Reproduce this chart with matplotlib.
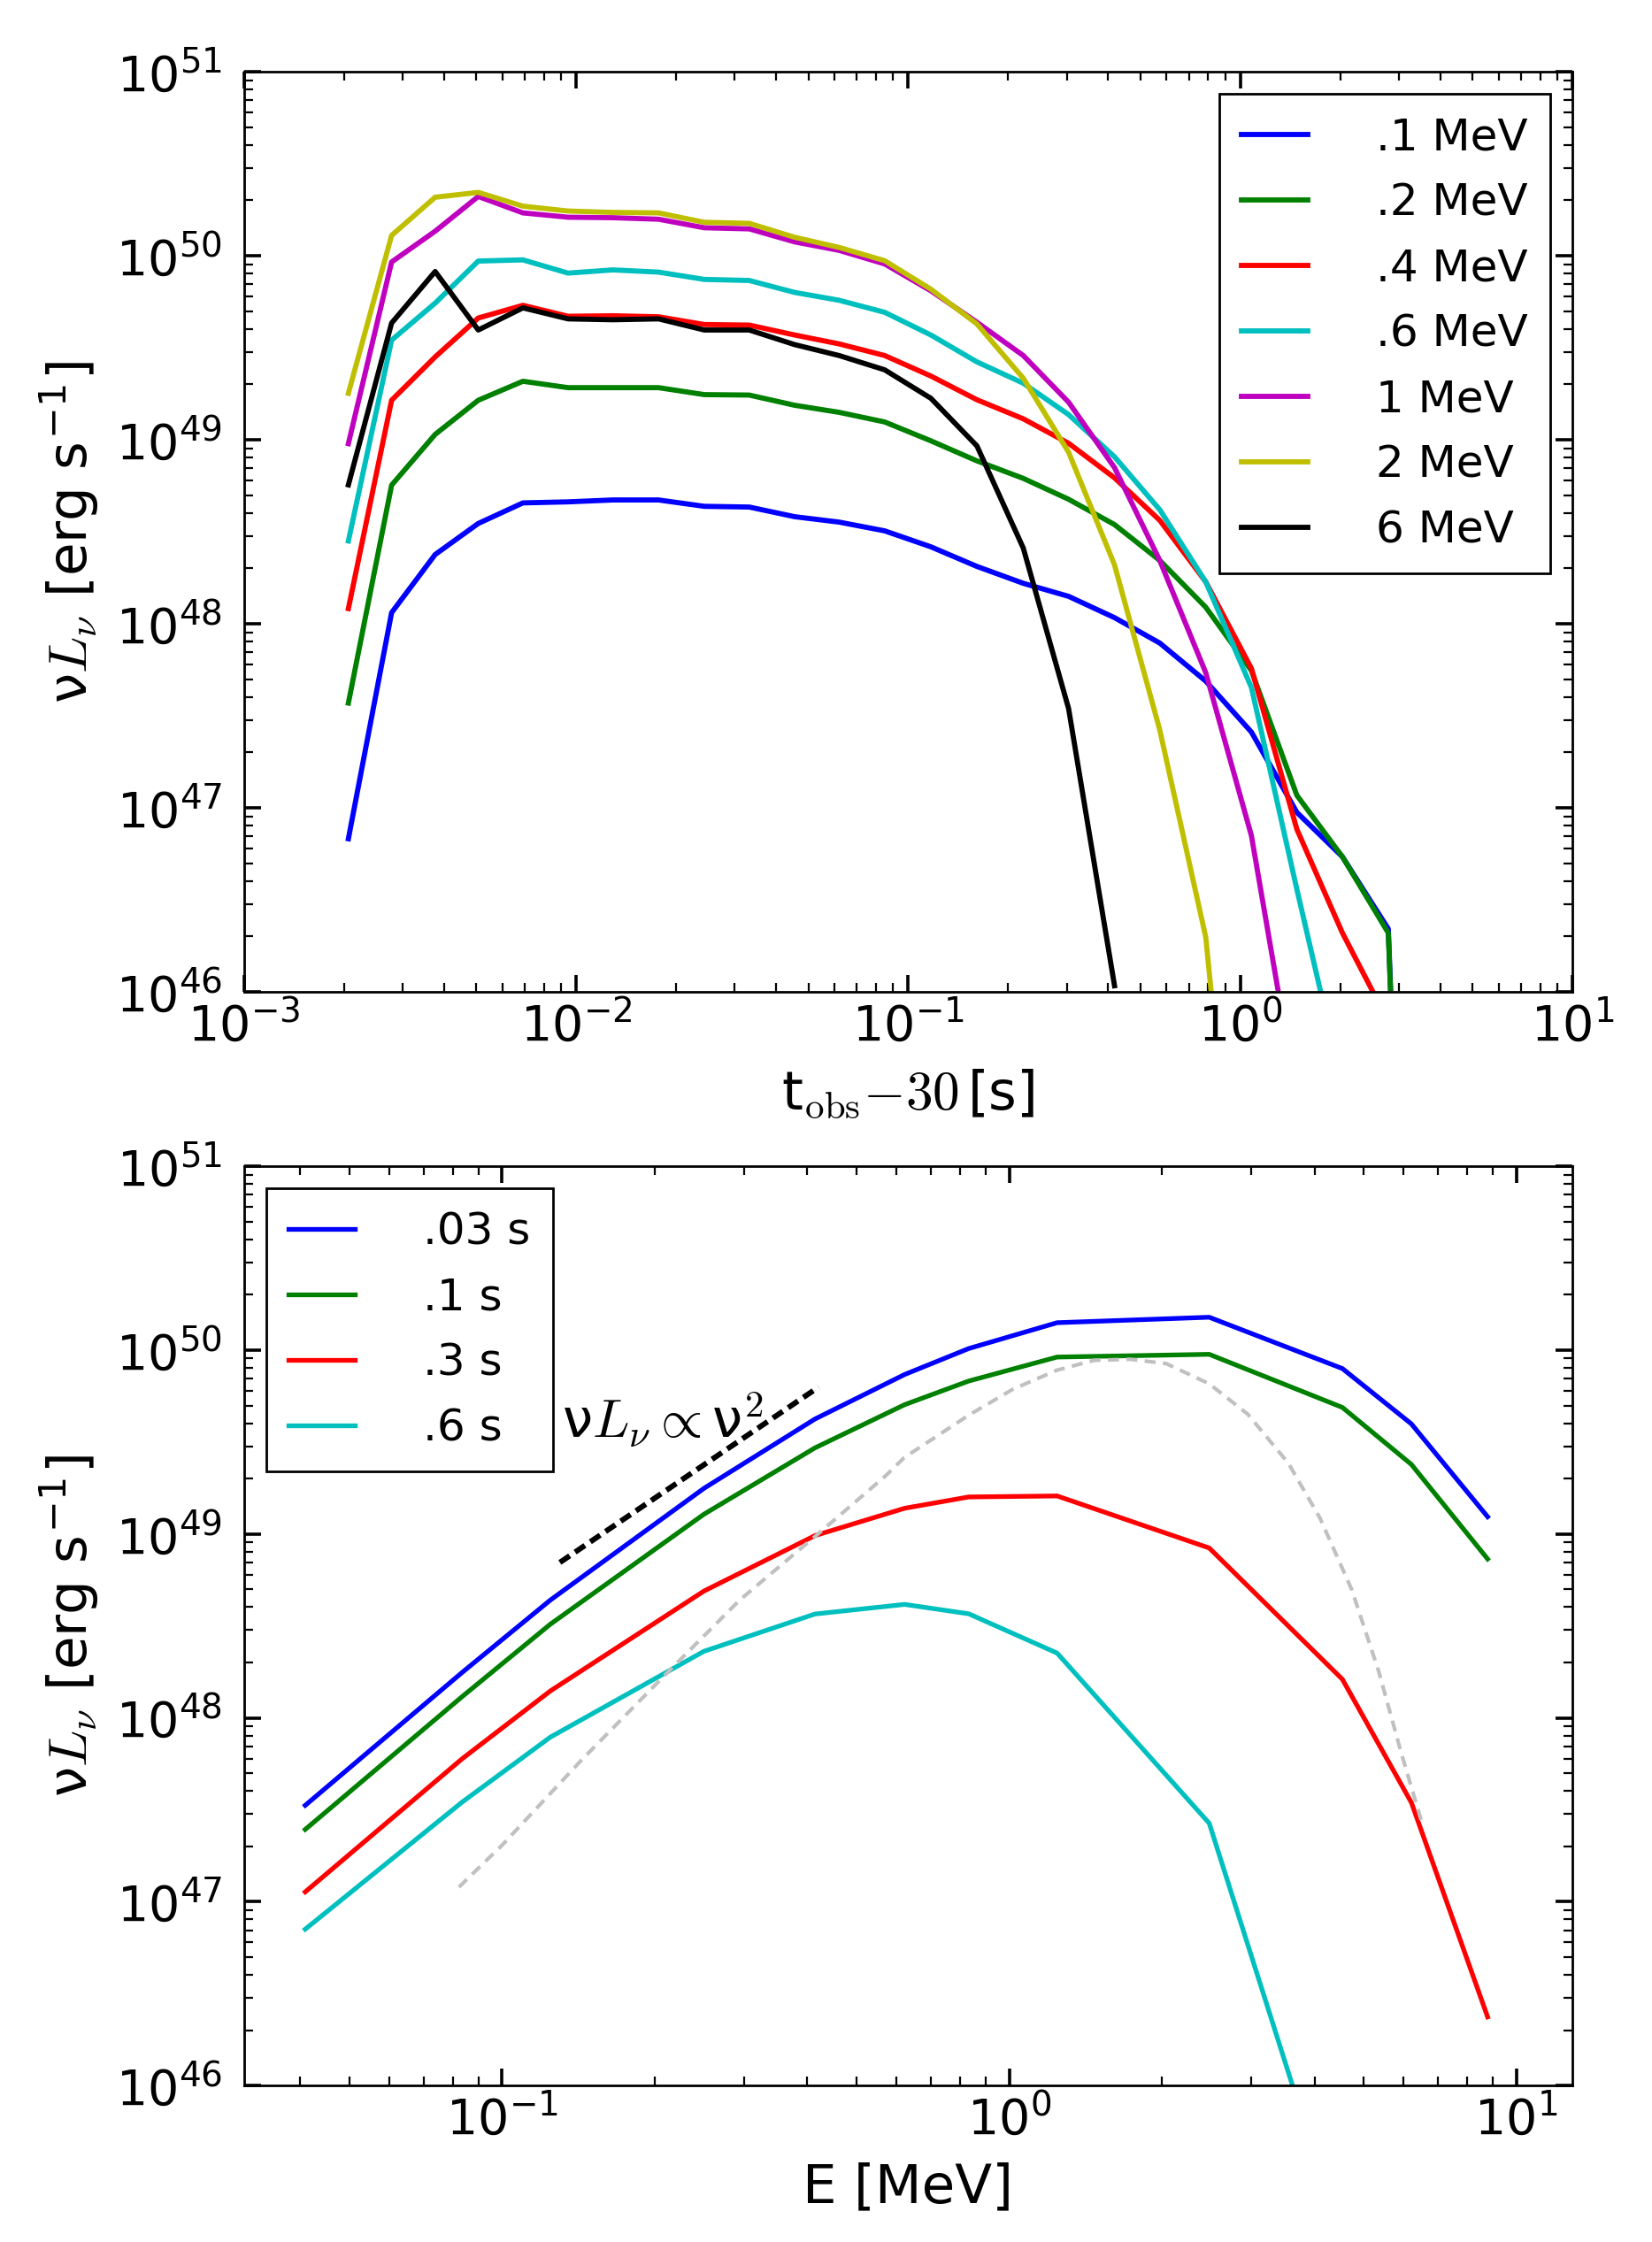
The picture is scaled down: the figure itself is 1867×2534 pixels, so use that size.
import matplotlib
matplotlib.use("Agg")
import matplotlib.pyplot as plt

plt.rcParams.update({
    "font.family": "DejaVu Sans",
    "mathtext.fontset": "cm",
    "axes.unicode_minus": False,
    "xtick.direction": "in",
    "ytick.direction": "in",
    "xtick.top": True,
    "ytick.right": True,
    "xtick.major.size": 7,
    "ytick.major.size": 7,
    "xtick.minor.size": 3.5,
    "ytick.minor.size": 3.5,
    "xtick.major.width": 1.3,
    "ytick.major.width": 1.3,
    "xtick.minor.width": 0.8,
    "ytick.minor.width": 0.8,
    "axes.linewidth": 1.0,
    "xtick.labelsize": 20,
    "ytick.labelsize": 20,
})

# ---- light curves (top panel) ----
t_obs = [2.06e-3, 2.78e-3, 3.76e-3, 5.07e-3, 6.91e-3, 9.45e-3, 1.29e-2, 1.77e-2,
         2.43e-2, 3.32e-2, 4.55e-2, 6.19e-2, 8.49e-2, 0.117, 0.161, 0.222,
         0.304, 0.418, 0.572, 0.787, 1.08, 1.48, 2.03, 2.79, 3.81]

lc_01MeV = [6.79e46, 1.15e48, 2.38e48, 3.51e48, 4.54e48, 4.60e48, 4.71e48, 4.71e48,
            4.35e48, 4.31e48, 3.82e48, 3.57e48, 3.20e48, 2.62e48, 2.05e48, 1.66e48,
            1.41e48, 1.08e48, 7.86e47, 4.88e47, 2.58e47, 9.45e46, 5.42e46, 2.20e46, 1e40]
lc_02MeV = [3.71e47, 5.67e48, 1.07e49, 1.64e49, 2.08e49, 1.92e49, 1.92e49, 1.92e49,
            1.76e49, 1.75e49, 1.54e49, 1.41e49, 1.25e49, 9.87e48, 7.68e48, 6.17e48,
            4.75e48, 3.46e48, 2.21e48, 1.23e48, 5.57e47, 1.17e47, 5.42e46, 2.09e46, 1e40]
lc_04MeV = [1.21e48, 1.64e49, 2.82e49, 4.59e49, 5.38e49, 4.69e49, 4.72e49, 4.66e49,
            4.23e49, 4.20e49, 3.71e49, 3.32e49, 2.87e49, 2.22e49, 1.65e49, 1.30e49,
            9.57e48, 6.21e48, 3.65e48, 1.69e48, 5.72e47, 7.65e46, 2.09e46, 6.9e45]
lc_06MeV = [2.82e48, 3.48e49, 5.53e49, 9.36e49, 9.50e49, 8.05e49, 8.38e49, 8.15e49,
            7.44e49, 7.34e49, 6.32e49, 5.73e49, 4.93e49, 3.71e49, 2.65e49, 2.03e49,
            1.37e49, 8.08e48, 4.17e48, 1.69e48, 4.51e47, 3.61e46, 3.1e45]
lc_1MeV = [9.53e48, 9.25e49, 1.36e50, 2.10e50, 1.71e50, 1.62e50, 1.61e50, 1.58e50,
           1.42e50, 1.40e50, 1.19e50, 1.07e50, 9.03e49, 6.45e49, 4.35e49, 2.87e49,
           1.60e49, 7.06e48, 2.21e48, 5.42e47, 7.06e46, 2.6e45]
lc_2MeV = [1.79e49, 1.29e50, 2.08e50, 2.21e50, 1.86e50, 1.75e50, 1.72e50, 1.71e50,
           1.52e50, 1.50e50, 1.26e50, 1.11e50, 9.40e49, 6.58e49, 4.26e49, 2.16e49,
           8.56e48, 2.09e48, 2.65e47, 1.98e46, 6e43]
lc_6MeV = [5.69e48, 4.31e49, 8.21e49, 3.95e49, 5.21e49, 4.54e49, 4.49e49, 4.54e49,
           3.95e49, 3.95e49, 3.29e49, 2.87e49, 2.40e49, 1.68e49, 9.26e48, 2.58e48,
           3.46e47, 1.08e46]

lc_labels = [".1 MeV", ".2 MeV", ".4 MeV", ".6 MeV", "1 MeV", "2 MeV", "6 MeV"]

# ---- spectra (bottom panel) ----
energy = [0.0409, 0.0833, 0.1245, 0.250, 0.414, 0.622, 0.832, 1.243, 2.48, 4.54, 6.21, 8.78]

sp_003s = [3.34e47, 1.76e48, 4.37e48, 1.77e49, 4.22e49, 7.37e49, 1.02e50, 1.41e50,
           1.51e50, 7.94e49, 3.97e49, 1.24e49]
sp_01s = [2.47e47, 1.30e48, 3.23e48, 1.28e49, 2.94e49, 5.05e49, 6.79e49, 9.17e49,
          9.49e49, 4.88e49, 2.39e49, 7.31e48]
sp_03s = [1.13e47, 5.97e47, 1.40e48, 4.89e48, 9.80e48, 1.38e49, 1.59e49, 1.61e49,
          8.39e48, 1.62e48, 3.46e47, 2.36e46]
sp_06s = [7.08e46, 3.47e47, 7.85e47, 2.30e48, 3.67e48, 4.14e48, 3.68e48, 2.25e48,
          2.67e47, 1.4e45]

sp_labels = [".03 s", ".1 s", ".3 s", ".6 s"]

# grey dashed thermal-like reference curve
bb_energy = [0.0822, 0.1002, 0.1434, 0.2091, 0.2941, 0.4136, 0.5693, 0.6206, 0.8324,
             1.016, 1.242, 1.47, 1.731, 2.04, 2.480, 2.953, 3.551, 4.101, 4.733,
             5.354, 5.934, 6.507]
bb_lum = [1.20e47, 2.04e47, 5.89e47, 1.70e48, 4.37e48, 9.66e48, 2.06e49, 2.60e49, 4.43e49,
          6.12e49, 7.78e49, 8.80e49, 8.92e49, 8.45e49, 6.56e49, 4.49e49, 2.43e49, 1.22e49,
          5.01e48, 1.79e48, 6.41e47, 2.72e47]

# nu L_nu ~ nu^2 guide segment
guide_energy = [0.130, 0.421]
guide_lum = [7.0e48, 6.3e49]

colors = ["b", "g", "r", "c", "m", "y", "k"]
legend_kw = dict(fontsize=18, handlelength=1.5, handletextpad=1.55, borderpad=0.5,
                 labelspacing=0.52, fancybox=False, framealpha=1, edgecolor="black")

fig = plt.figure(figsize=(9.335, 12.67), dpi=200)
ax1 = fig.add_axes([0.1478, 0.5576, 0.8040, 0.4104])
ax2 = fig.add_axes([0.1478, 0.0698, 0.8040, 0.4100])

lc_series = [lc_01MeV, lc_02MeV, lc_04MeV, lc_06MeV, lc_1MeV, lc_2MeV, lc_6MeV]
for vals, lab, col in zip(lc_series, lc_labels, colors):
    ax1.plot(t_obs[:len(vals)], vals, color=col, lw=2.1, label=lab)

ax1.set_xscale("log")
ax1.set_yscale("log")
ax1.set_xlim(1e-3, 10)
ax1.set_ylim(1e46, 1e51)
ax1.set_xlabel(r"t$_{\rm obs}{-}30\,$[s]", fontsize=22, labelpad=7)
ax1.set_ylabel(r"ν$L_\nu$ [erg s$^{\mathregular{-1}}$]", fontsize=22, labelpad=6)
leg1 = ax1.legend(loc="upper right", **legend_kw)
leg1.get_frame().set_linewidth(1.0)

sp_series = [sp_003s, sp_01s, sp_03s, sp_06s]
for vals, lab, col in zip(sp_series, sp_labels, colors):
    ax2.plot(energy[:len(vals)], vals, color=col, lw=1.9, label=lab)
ax2.plot(bb_energy, bb_lum, color="silver", lw=1.5, dashes=(3, 2))
ax2.plot(guide_energy, guide_lum, color="k", lw=2.2, dashes=(2.2, 1.2))
ax2.text(0.131, 3.3e49, r"ν$L_\nu\propto$ν$^2$", fontsize=22, va="baseline")

ax2.set_xscale("log")
ax2.set_yscale("log")
ax2.set_xlim(0.031, 12.9)
ax2.set_ylim(1e46, 1e51)
ax2.set_xlabel("E [MeV]", fontsize=22, labelpad=7)
ax2.set_ylabel(r"ν$L_\nu$ [erg s$^{\mathregular{-1}}$]", fontsize=22, labelpad=6)
leg2 = ax2.legend(loc="upper left", **legend_kw)
leg2.get_frame().set_linewidth(1.0)

for ax in (ax1, ax2):
    ax.tick_params(axis="x", which="major", pad=4)
    ax.tick_params(axis="y", which="major", pad=9)

fig.savefig("out.png", dpi=200)
